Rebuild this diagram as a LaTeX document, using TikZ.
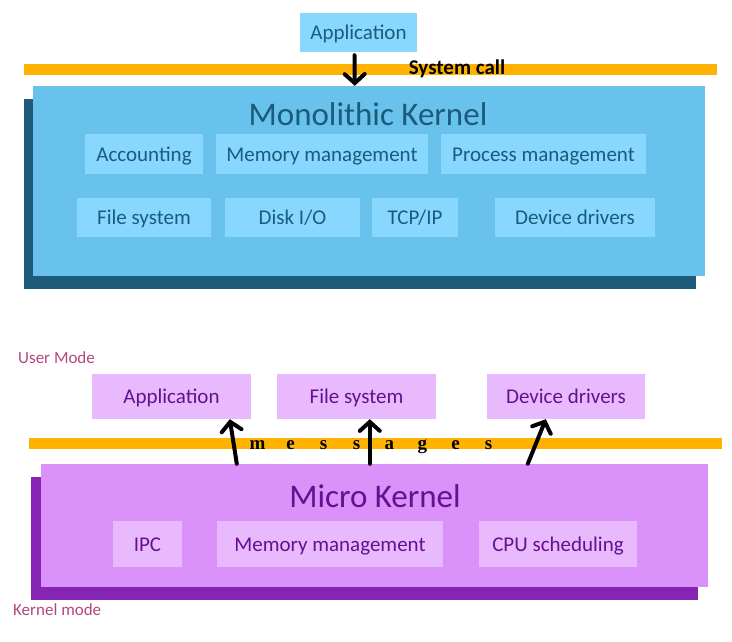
\documentclass[tikz,border=0pt]{standalone}
\usepackage{fontspec}
\setmainfont{Carlito}
\newfontfamily\msgfont{Liberation Serif}
\usetikzlibrary{positioning,arrows.meta,shadows,calc}

\definecolor{monofill}{HTML}{69C2EB}
\definecolor{monobox}{HTML}{87D7FE}
\definecolor{monoshade}{HTML}{1E5B7A}
\definecolor{monotext}{HTML}{1B5B7C}
\definecolor{barorange}{HTML}{FFB300}
\definecolor{microfill}{HTML}{DA91FA}
\definecolor{microbox}{HTML}{E8BAFD}
\definecolor{microshade}{HTML}{8624B3}
\definecolor{microtext}{HTML}{64108F}
\definecolor{modetext}{HTML}{B4467F}

\newcommand{\msgchar}[1]{\makebox[33pt]{#1}}

\begin{document}
\begin{tikzpicture}[x=1pt,y=-1pt,
  monopart/.style={fill=monobox, text=monotext, font=\fontsize{21}{24}\selectfont, minimum height=39pt, inner sep=0pt, text height=16pt, text depth=2pt},
  micropart/.style={fill=microbox, text=microtext, font=\fontsize{21}{24}\selectfont, minimum height=45pt, inner sep=0pt, text height=16pt, text depth=2pt},
  arr/.style={line width=4pt, line cap=round, -{Straight Barb[length=9pt,width=20pt,line cap=round]}},
  modelabel/.style={text=modetext, font=\fontsize{17}{20}\selectfont, inner sep=0pt, anchor=west}]
  \useasboundingbox (0,0) rectangle (732,642);

  % monolithic kernel
  \node[monopart, minimum width=117pt] (app) at (358.5,32.5) {Application};
  \fill[barorange] (24,64) rectangle (717,75);
  \node[font=\bfseries\fontsize{21}{24}\selectfont, inner sep=0pt] (syscall) at (457,69) {System call};
  \node[fill=monofill, minimum width=672pt, minimum height=190pt, inner sep=0pt,
        general shadow={fill=monoshade, shadow xshift=-9pt, shadow yshift=-13pt}] (mono) at (369,181) {};
  \node[text=monotext, font=\fontsize{33}{38}\selectfont, inner sep=0pt] (monotitle) at (368,114) {Monolithic Kernel};

  \node[monopart, minimum width=118pt] (acct) at (144,154) {Accounting};
  \node[monopart, minimum width=212pt] (mmem) at (322,154) {Memory management};
  \node[monopart, minimum width=205pt] (proc) at (543.5,154) {Process management};
  \node[monopart, minimum width=134pt] (mfs) at (144,217.5) {File system};
  \node[monopart, minimum width=135pt] (disk) at (292.5,217.5) {Disk I/O};
  \node[monopart, minimum width=86pt] (tcp) at (415,217.5) {TCP/IP};
  \node[monopart, minimum width=160pt] (mdev) at (575,217.5) {Device drivers};

  \draw[arr] ($(app.south)+(-4,3)$) -- ($(mono.north west)+(322,0)$);

  % micro kernel
  \node[modelabel] (umode) at (18,358) {User Mode};
  \node[micropart, minimum width=159pt] (uapp) at (171.5,396.5) {Application};
  \node[micropart, minimum width=159pt] (ufs) at (356.5,396.5) {File system};
  \node[micropart, minimum width=158pt] (udev) at (566,396.5) {Device drivers};
  \fill[barorange] (29,438) rectangle (722,449);
  \node[font=\msgfont\bfseries\fontsize{19}{22}\selectfont, inner sep=0pt, anchor=base] (msg) at (373,449)
    {\msgchar{m}\msgchar{e}\msgchar{s}\msgchar{s}\msgchar{a}\msgchar{g}\msgchar{e}\msgchar{s}};
  \node[fill=microfill, minimum width=667pt, minimum height=123pt, inner sep=0pt,
        general shadow={fill=microshade, shadow xshift=-10pt, shadow yshift=-13pt}] (micro) at (374.5,525.5) {};
  \node[text=microtext, font=\fontsize{33}{38}\selectfont, inner sep=0pt] (microtitle) at (375,496) {Micro Kernel};

  \node[micropart, minimum width=69pt, minimum height=46pt] (ipc) at (147.5,544) {IPC};
  \node[micropart, minimum width=226pt, minimum height=46pt] (umem) at (330,544) {Memory management};
  \node[micropart, minimum width=158pt, minimum height=46pt] (cpu) at (558,544) {CPU scheduling};
  \node[modelabel] (kmode) at (13,610) {Kernel mode};

  \draw[arr] ($(micro.north west)+(196,0)$) -- ($(uapp.south west)+(138,0)$);
  \draw[arr] ($(micro.north west)+(329,0)$) -- ($(ufs.south west)+(93,0)$);
  \draw[arr] ($(micro.north west)+(487,0)$) -- ($(udev.south west)+(59,0)$);
\end{tikzpicture}
\end{document}
